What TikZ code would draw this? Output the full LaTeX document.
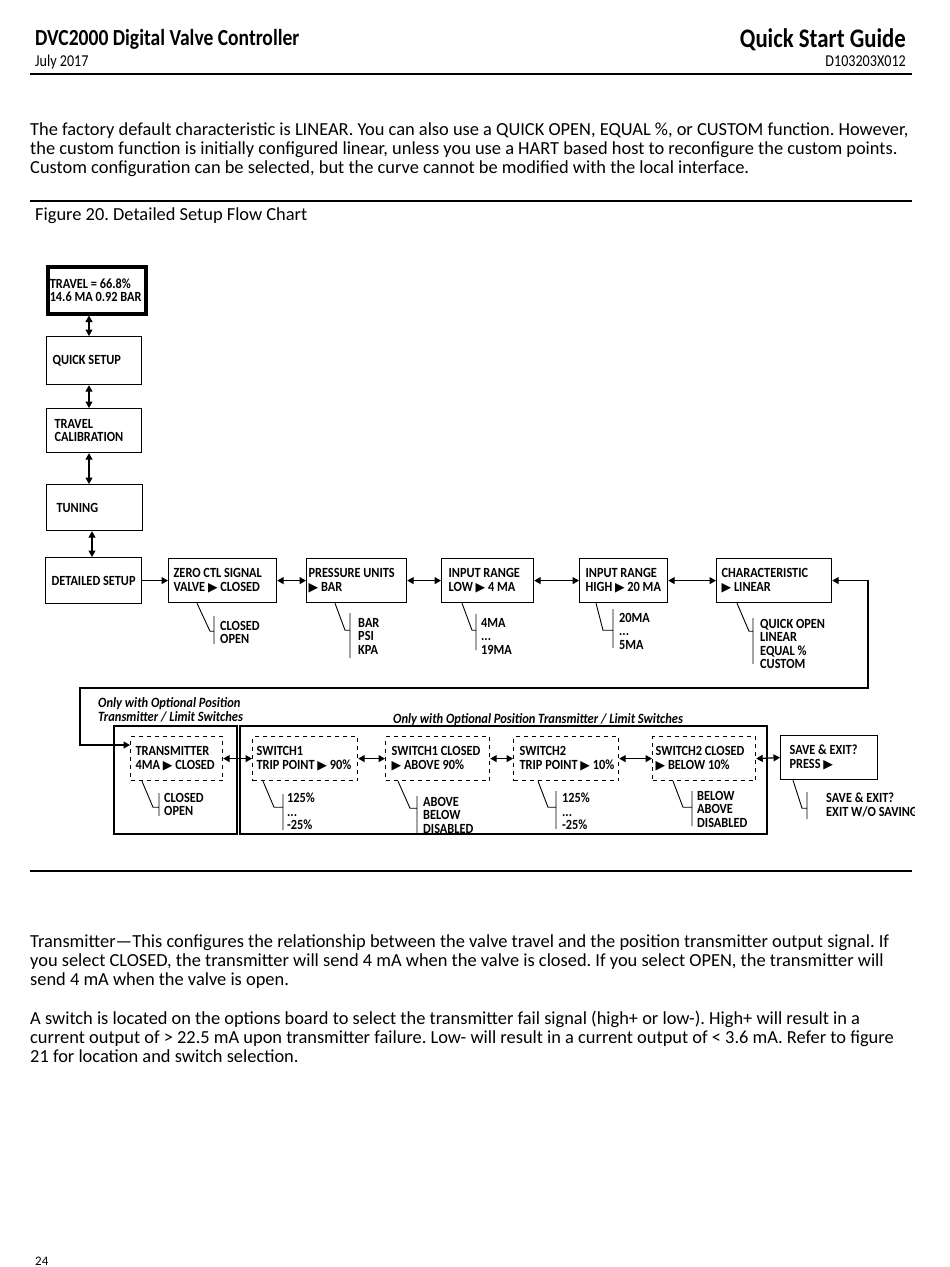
\documentclass[tikz,border=0pt]{standalone}
\usepackage{fontspec}
\setmainfont{Carlito}
\newfontfamily\dfont[FakeStretch=0.88,WordSpace=0.8]{Carlito}
\newfontfamily\lfont[FakeStretch=0.88]{Carlito}
\newfontfamily\hfont[FakeStretch=0.85]{Carlito}
\newfontfamily\symf{DejaVu Sans}
\usetikzlibrary{arrows.meta,calc}
\newcommand\tri{{\symf\fontsize{12.5}{10}\selectfont ▶}}
\newcommand\dfs{\dfont\bfseries\fontsize{14}{13.5}\selectfont}
\newcommand\M[1]{\mbox{\spaceskip=0pt\relax\xspaceskip=0pt\relax #1}}
\frenchspacing
\tikzset{
  box/.style={draw, line width=1.2pt, anchor=north west, font=\dfs, align=left, inner ysep=0pt},
  dbox/.style={box, dash pattern=on 4pt off 4pt},
  opt/.style={font=\dfs, align=left, inner sep=0pt, anchor=north west},
  br/.style={line width=0.9pt},
  dbl/.style={{Triangle[length=6.5pt,width=7pt]}-{Triangle[length=6.5pt,width=7pt]}, line width=1.2pt},
  sgl/.style={-{Triangle[length=6.5pt,width=7pt]}, line width=1.2pt},
  body/.style={anchor=base west, inner sep=0pt, font=\fontsize{18.4}{19}\selectfont},
  lab/.style={font=\lfont\bfseries\itshape\fontsize{14.2}{14}\selectfont, inner sep=0pt, align=left}
}
\begin{document}
\begin{tikzpicture}[x=1pt,y=-1pt]
\useasboundingbox (0,0) rectangle (950,1267);
\fill[white] (0,0) rectangle (950,1267);
% header
\node[anchor=base west, inner sep=0pt, font=\hfont\bfseries\fontsize{23}{24}\selectfont] (h1) at (35,45) {DVC2000 Digital Valve Controller};
\node[anchor=base west, inner sep=0pt, font=\hfont\fontsize{16.6}{17}\selectfont] (h2) at (35,66) {July 2017};
\node[anchor=base east, inner sep=0pt, font=\hfont\bfseries\fontsize{26.8}{27}\selectfont] (h3) at (906,47) {Quick Start Guide};
\node[anchor=base east, inner sep=0pt, font=\hfont\fontsize{16.6}{17}\selectfont] (h4) at (906,66) {D103203X012};
\draw[line width=1.2pt] (30,74) -- (912,74);
% paragraph
\node[body] (p1) at (30,135) {The factory default characteristic is LINEAR. You can also use a QUICK OPEN, EQUAL \%, or CUSTOM function. However,};
\node[body] (p2) at (30,154) {the custom function is initially configured linear, unless you use a HART based host to reconfigure the custom points.};
\node[body] (p3) at (30,173) {Custom configuration can be selected, but the curve cannot be modified with the local interface.};
\draw[line width=2pt] (30,201) -- (912,201);
\node[body] (fig) at (35,220) {Figure 20. Detailed Setup Flow Chart};
% left column
\node[box, line width=3.5pt, minimum height=47, text width=94, inner xsep=2] (b1) at (46,265) {\M{TRAVEL = 66.8\%}\\\M{14.6 MA 0.92 BAR}};
\node[box, minimum height=48, text width=83, inner xsep=6] (b2) at (46,336) {\M{QUICK SETUP}};
\node[box, minimum height=44, text width=79, inner xsep=8] (b3) at (46,408) {\M{TRAVEL}\\\M{CALIBRATION}};
\node[box, minimum height=46, text width=76, inner xsep=10] (b4) at (46,484) {\M{TUNING}};
\node[box, minimum height=46, text width=90, inner xsep=3, align=center] (b5) at (45,557) {\M{DETAILED SETUP}};
\coordinate (va) at (89,0);
\coordinate (vb) at (92,0);
\draw[dbl] (b1.south -| va) -- (b2.north -| va);
\draw[dbl] (b2.south -| va) -- (b3.north -| va);
\draw[dbl] (b3.south -| va) -- (b4.north -| va);
\draw[dbl] (b4.south -| vb) -- (b5.north -| vb);
% top row
\node[box, minimum height=44, text width=98, inner xsep=5] (b6) at (168,558) {\M{ZERO CTL SIGNAL}\\\M{VALVE \tri{} CLOSED}};
\node[box, minimum height=44, text width=96, inner xsep=2] (b7) at (306,558) {\M{PRESSURE UNITS}\\\M{\tri{} BAR}};
\node[box, minimum height=44, text width=78, inner xsep=7] (b8) at (441,558) {\M{INPUT RANGE}\\\M{LOW \tri{} 4 MA}};
\node[box, minimum height=44, text width=76, inner xsep=6] (b9) at (579,558) {\M{INPUT RANGE}\\\M{HIGH \tri{} 20 MA}};
\node[box, minimum height=44, text width=105, inner xsep=5] (b10) at (716,558) {\M{CHARACTERISTIC}\\\M{\tri{} LINEAR}};
\draw[sgl] (b5.east) -- (b6.west);
\draw[dbl] (b6.east) -- (b7.west);
\draw[dbl] (b7.east) -- (b8.west);
\draw[dbl] (b8.east) -- (b9.west);
\draw[dbl] (b9.east) -- (b10.west);
% top row options
\draw[br] ([xshift=29]b6.south west) -- ++(13,28) -- ++(4,0) ++(0,-15) -- ++(0,28);
\node[opt] (o6) at (220,621) {CLOSED\\OPEN};
\draw[br] ([xshift=29]b7.south west) -- ++(10,27) -- ++(5,0) ++(0,-17) -- ++(0,45);
\node[opt] (o7) at (358,618) {BAR\\PSI\\KPA};
\draw[br] ([xshift=21]b8.south west) -- ++(10,27) -- ++(4,0) ++(0,-16) -- ++(0,36);
\node[opt] (o8) at (481,618) {4MA\\...\\19MA};
\draw[br] ([xshift=17]b9.south west) -- ++(7,27) -- ++(10,0) ++(0,-21) -- ++(0,39);
\node[opt] (o9) at (619,613) {20MA\\...\\5MA};
\draw[br] ([xshift=21]b10.south west) -- ++(12,28) -- ++(4,0) ++(0,-13) -- ++(0,46);
\node[opt] (o10) at (760,619) {QUICK OPEN\\LINEAR\\EQUAL \%\\CUSTOM};
% labels and frames
\node[lab, anchor=north west] (l1) at (98,697) {Only with Optional Position\\Transmitter / Limit Switches};
\node[lab, anchor=base west] (l2) at (393,723) {Only with Optional Position Transmitter / Limit Switches};
\draw[line width=1.1pt] (114,726) rectangle (237,834);
\draw[line width=1.1pt] (240,726) rectangle (767,834);
% bottom row
\node[dbox, minimum height=44, text width=82, inner xsep=5] (d1) at (130,736) {\M{TRANSMITTER}\\\M{4MA \tri{} CLOSED}};
\node[dbox, minimum height=44, text width=97, inner xsep=4] (d2) at (252,736) {\M{SWITCH1}\\\M{TRIP POINT \tri{} 90\%}};
\node[dbox, minimum height=44, text width=92, inner xsep=6] (d3) at (385,736) {\M{SWITCH1 CLOSED}\\\M{\tri{} ABOVE 90\%}};
\node[dbox, minimum height=44, text width=93, inner xsep=6] (d4) at (513,736) {\M{SWITCH2}\\\M{TRIP POINT \tri{} 10\%}};
\node[dbox, minimum height=44, text width=97, inner xsep=3] (d5) at (652,736) {\M{SWITCH2 CLOSED}\\\M{\tri{} BELOW 10\%}};
\node[box, minimum height=44, text width=79, inner xsep=9] (b11) at (780,735) {\M{SAVE \& EXIT?}\\\M{PRESS \tri}};
\draw[dbl] (d1.east) -- (d2.west);
\draw[dbl] (d2.east) -- (d3.west);
\draw[dbl] (d3.east) -- (d4.west);
\draw[dbl] (d4.east) -- (d5.west);
\draw[dbl] (d5.east) -- (b11.west);
% loop connector
\coordinate (lr) at (868,688);
\coordinate (ll) at (80,688);
\coordinate (le) at (80,745);
\draw[dbl] (b10.east) -- (b10.east -| lr) -- (lr) -- (ll) -- (le) -- (le -| d1.west);
% bottom row options
\draw[br] ([xshift=12]d1.south west) -- ++(11,26) -- ++(6,0) ++(0,-14) -- ++(0,23);
\node[opt] (q1) at (164,793) {CLOSED\\OPEN};
\draw[br] ([xshift=11]d2.south west) -- ++(11,26) -- ++(9,0) ++(0,-13) -- ++(0,36);
\node[opt] (q2) at (287,793) {125\%\\...\\-25\%};
\draw[br] ([xshift=13]d3.south west) -- ++(12,27) -- ++(7,0) ++(0,-12) -- ++(0,37);
\node[opt] (q3) at (423,797) {ABOVE\\BELOW\\DISABLED};
\draw[br] ([xshift=25]d4.south west) -- ++(10,26) -- ++(8,0) ++(0,-16) -- ++(0,38);
\node[opt] (q4) at (562,793) {125\%\\...\\-25\%};
\draw[br] ([xshift=21]d5.south west) -- ++(10,26) -- ++(9,0) ++(0,-16) -- ++(0,35);
\node[opt] (q5) at (697,791) {BELOW\\ABOVE\\DISABLED};
\draw[br] ([xshift=13]b11.south west) -- ++(9,28) -- ++(5,0) ++(0,-16) -- ++(0,27);
\begin{scope}
\clip (0,0) rectangle (914,1267);
\node[opt] (q6) at (826,793) {SAVE \& EXIT?\\EXIT W/O SAVING};
\end{scope}
\draw[line width=1.5pt] (30,871) -- (912,871);
% lower text
\node[body] (t1) at (30,947) {Transmitter---This configures the relationship between the valve travel and the position transmitter output signal. If};
\node[body] (t2) at (30,966) {you select CLOSED, the transmitter will send 4 mA when the valve is closed. If you select OPEN, the transmitter will};
\node[body] (t3) at (30,985) {send 4 mA when the valve is open.};
\node[body] (t4) at (30,1024) {A switch is located on the options board to select the transmitter fail signal (high+ or low-). High+ will result in a};
\node[body] (t5) at (30,1043) {current output of > 22.5 mA upon transmitter failure. Low- will result in a current output of < 3.6 mA. Refer to figure};
\node[body] (t6) at (30,1062) {21 for location and switch selection.};
\node[anchor=base west, inner sep=0pt, font=\fontsize{13}{14}\selectfont] (pg) at (35,1265) {24};
\end{tikzpicture}
\end{document}
